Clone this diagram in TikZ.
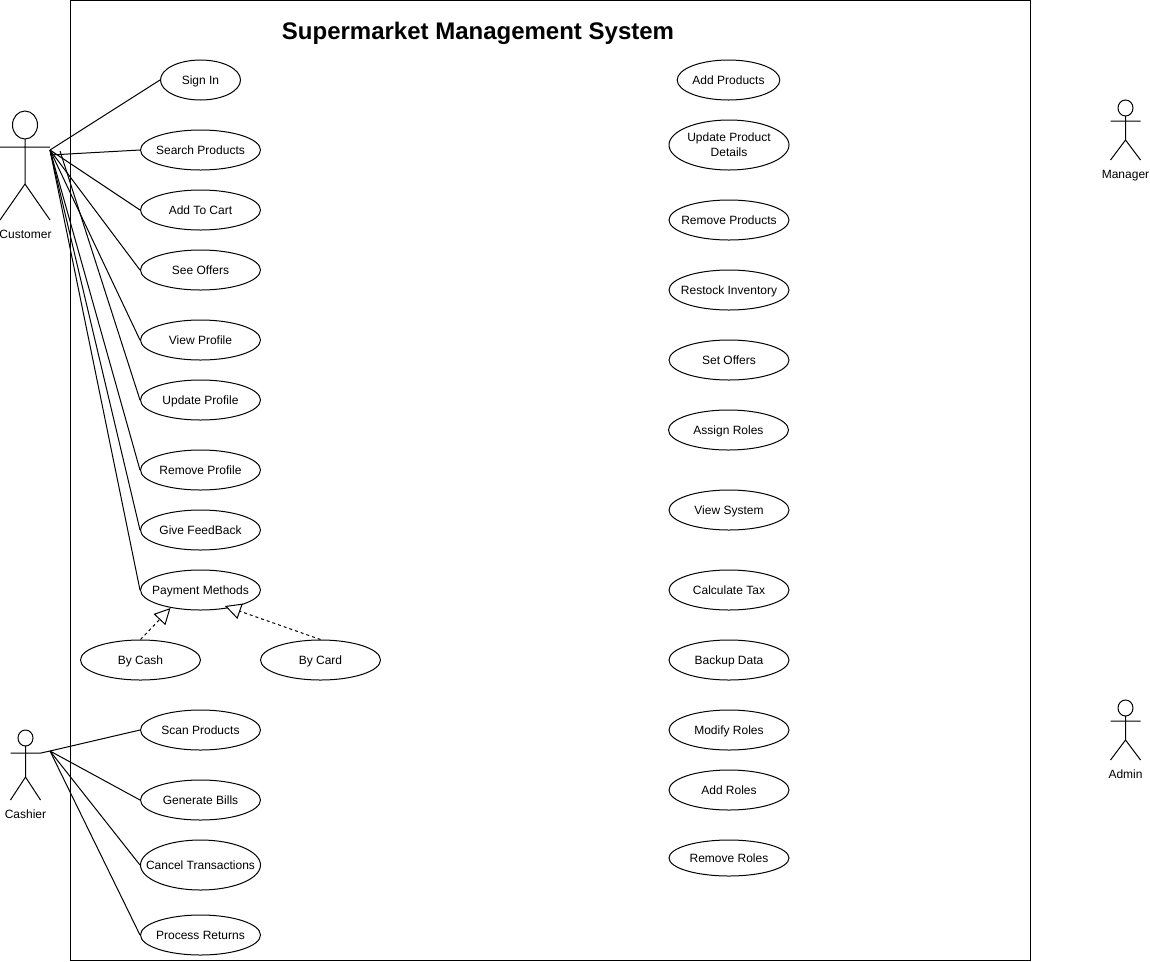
\documentclass[tikz,border=0pt]{standalone}
\usepackage{fontspec}
\setmainfont{Liberation Sans}
\usetikzlibrary{shapes.geometric,arrows.meta}
\tikzset{
  uc/.style={draw,ellipse,inner xsep=-30pt,inner ysep=-12pt,minimum width=90pt,minimum height=30pt,align=center,text height=6.6pt,text depth=0pt,font=\fontsize{9}{11.25}\selectfont,line width=.75pt},
  lbl/.style={inner sep=0pt,text height=6.6pt,text depth=0pt,font=\fontsize{9}{11}\selectfont},
  ln/.style={line width=.75pt},
  gen/.style={line width=.75pt,dash pattern=on 2.25pt off 2.25pt,-{Triangle[open,length=12pt,width=12pt,fill=white]}}
}
\begin{document}
\begin{tikzpicture}[x=.75pt,y=-.75pt]
\useasboundingbox (0,0) rectangle (1150,961);
\draw[ln] (70.5,.5) rectangle (1030.5,960.5);
\node[inner sep=0pt,text height=13pt,text depth=0pt,font=\bfseries\fontsize{18}{22}\selectfont] (title) at (478,31) {Supermarket Management System};
% Customer
\draw[ln] (25,125) ellipse (12.5 and 14);
\draw[ln] (25,139) -- (25,184) (0,147) -- (50,147) (0,220) -- (25,184) -- (50,220);
\coordinate (cu) at (50,150);
\coordinate (cu2) at (60,151);
\node[lbl] (customer) at (25.5,234) {Customer};
% Manager
\draw[ln] (1125.5,108) ellipse (7.5 and 8);
\draw[ln] (1125.5,116) -- (1125.5,140) (1110.5,121) -- (1140.5,121) (1110.5,160) -- (1125.5,140) -- (1140.5,160);
\node[lbl] (manager) at (1125.5,174) {Manager};
% Admin
\draw[ln] (1125.5,708) ellipse (7.5 and 8);
\draw[ln] (1125.5,716) -- (1125.5,740) (1110.5,721) -- (1140.5,721) (1110.5,760) -- (1125.5,740) -- (1140.5,760);
\node[lbl] (admin) at (1125.5,774) {Admin};
% Cashier
\draw[ln] (25.5,738) ellipse (7.5 and 8);
\draw[ln] (25.5,746) -- (25.5,777) (10.5,753) -- (41,753) (10.5,800) -- (25.5,777) -- (40.5,800);
\coordinate (ca) at (50,751);
\node[lbl] (cashier) at (25.5,814) {Cashier};
% left use cases
\node[uc,minimum width=60pt] (signin) at (200.5,80) {Sign In};
\node[uc] (search) at (200.5,150) {Search Products};
\node[uc] (cart) at (200.5,210) {Add To Cart};
\node[uc] (offers) at (200.5,270) {See Offers};
\node[uc] (view) at (200.5,340) {View Profile};
\node[uc] (update) at (200.5,400) {Update Profile};
\node[uc] (remove) at (200.5,470) {Remove Profile};
\node[uc] (feedback) at (200.5,530) {Give FeedBack};
\node[uc] (payment) at (200.5,590) {Payment Methods};
\node[uc] (cash) at (140.5,660) {By Cash};
\node[uc] (card) at (320.5,660) {By Card};
\node[uc] (scan) at (200.5,730) {Scan Products};
\node[uc] (bills) at (200.5,800) {Generate Bills};
\node[uc,minimum height=37.5pt] (cancel) at (200.5,865) {Cancel Transactions};
\node[uc] (returns) at (200.5,935) {Process Returns};
% right use cases
\node[uc,minimum width=77pt] (addp) at (728.5,80) {Add Products};
\node[uc,minimum height=37.5pt,text height=,text depth=] (updp) at (729,145) {Update Product\\Details};
\node[uc] (remp) at (729,220) {Remove Products};
\node[uc] (rest) at (729,290) {Restock Inventory};
\node[uc] (seto) at (729,360) {Set Offers};
\node[uc] (assign) at (728.5,430) {Assign Roles};
\node[uc] (vsys) at (729,510) {View System};
\node[uc] (tax) at (729,590) {Calculate Tax};
\node[uc] (backup) at (729,660) {Backup Data};
\node[uc] (modify) at (729,730) {Modify Roles};
\node[uc] (addr) at (729,790) {Add Roles};
\node[uc,minimum height=27pt] (remr) at (729,858) {Remove Roles};
% connectors
\draw[ln] (cu) -- (signin.west);
\draw[ln] (50,155) -- (search.west);
\draw[ln] (cu) -- (cart.west);
\draw[ln] (cu) -- (offers.west);
\draw[ln] (cu) -- (view.west);
\draw[ln] (cu2) -- (update.west);
\draw[ln] (cu) -- (remove.west);
\draw[ln] (cu) -- (feedback.west);
\draw[ln] (cu) -- (payment.west);
\draw[gen] (cash.north) -- (170.5,608);
\draw[gen] (card.north) -- (225,606);
\draw[ln] (41,753) -- (ca) -- (scan.west);
\draw[ln] (ca) -- (bills.west);
\draw[ln] (ca) -- (cancel.west);
\draw[ln] (ca) -- (returns.west);
\end{tikzpicture}
\end{document}
